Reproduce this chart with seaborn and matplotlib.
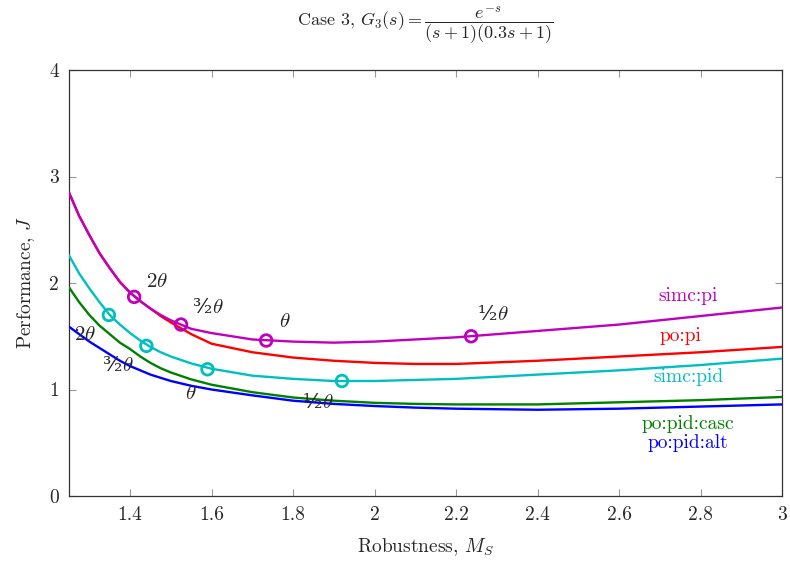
import numpy as np
import pandas as pd
import matplotlib
matplotlib.use("Agg")
import matplotlib.pyplot as plt
import seaborn as sns

# Robustness M_S sample points
ms = [1.25, 1.275, 1.3, 1.325, 1.35, 1.375, 1.4, 1.425, 1.45, 1.475, 1.5, 1.55, 1.6,
      1.7, 1.8, 1.9, 2.0, 2.1, 2.2, 2.4, 2.6, 2.8, 3.0]

simc_pi = [2.85, 2.63, 2.45, 2.28, 2.14, 2.01, 1.91, 1.83, 1.76, 1.70, 1.65, 1.57, 1.53,
           1.47, 1.45, 1.44, 1.45, 1.47, 1.49, 1.55, 1.61, 1.69, 1.77]
po_pi = [2.85, 2.63, 2.45, 2.28, 2.14, 2.01, 1.91, 1.83, 1.76, 1.69, 1.63, 1.52, 1.43,
         1.35, 1.30, 1.27, 1.25, 1.24, 1.24, 1.27, 1.31, 1.35, 1.40]
simc_pid = [2.26, 2.09, 1.95, 1.82, 1.70, 1.61, 1.53, 1.46, 1.40, 1.35, 1.31, 1.245, 1.195,
            1.13, 1.10, 1.08, 1.08, 1.09, 1.10, 1.14, 1.18, 1.23, 1.29]
po_pid_casc = [1.96, 1.82, 1.70, 1.60, 1.52, 1.44, 1.38, 1.31, 1.25, 1.20, 1.16, 1.095, 1.045,
               0.975, 0.925, 0.895, 0.875, 0.865, 0.86, 0.86, 0.88, 0.90, 0.93]
po_pid_alt = [1.59, 1.52, 1.45, 1.39, 1.33, 1.27, 1.22, 1.18, 1.14, 1.11, 1.08, 1.035, 1.00,
              0.945, 0.895, 0.865, 0.845, 0.83, 0.82, 0.81, 0.82, 0.84, 0.86]

# detuning markers (2θ, 3/2θ, θ, 1/2θ)
simc_pi_mk_x = [1.41, 1.525, 1.734, 2.237]
simc_pi_mk_y = [1.87, 1.61, 1.46, 1.50]
simc_pid_mk_x = [1.348, 1.44, 1.59, 1.92]
simc_pid_mk_y = [1.70, 1.41, 1.19, 1.08]

mk_labels = [r'$2\theta$', '\u00b3\u2044\u2082$\\theta$', r'$\theta$', '\u00b9\u2044\u2082$\\theta$']
top_label_x = [1.466, 1.59, 1.78, 2.29]
top_label_y = [2.01, 1.77, 1.64, 1.70]
low_label_x = [1.29, 1.37, 1.55, 1.86]
low_label_y = [1.52, 1.23, 0.96, 0.88]

series_names = ["simc:pi", "po:pi", "simc:pid", "po:pid:casc", "po:pid:alt"]
series_colors = ["#bf00bf", "#ff0000", "#00bfbf", "#008000", "#0000ff"]
name_x = [2.77, 2.75, 2.77, 2.77, 2.77]
name_y = [1.88, 1.50, 1.12, 0.68, 0.50]

sns.set_style("ticks")
plt.rcParams['font.family'] = ['cmr10']
plt.rcParams['mathtext.fontset'] = 'cm'
plt.rcParams['axes.formatter.use_mathtext'] = True

fig = plt.figure(figsize=(7.9, 5.67), dpi=100)
ax = fig.add_axes([0.0873, 0.1252, 0.9026, 0.7513])

# drawing order: po:pi under simc:pi
draw_order = [1, 0, 2, 3, 4]
all_series = [simc_pi, po_pi, simc_pid, po_pid_casc, po_pid_alt]
for i in draw_order:
    sns.lineplot(x=ms, y=all_series[i], color=series_colors[i], linewidth=1.7, ax=ax, zorder=3)

for mx, my, col in [(simc_pi_mk_x, simc_pi_mk_y, series_colors[0]),
                    (simc_pid_mk_x, simc_pid_mk_y, series_colors[2])]:
    sns.scatterplot(x=mx, y=my, marker='o', s=70, facecolor='none',
                    edgecolor=col, linewidth=2, ax=ax, zorder=4)

# fraction glyphs are not in cmr10, so these labels use DejaVu Serif
for lab, tx, ty in zip(mk_labels, top_label_x, top_label_y):
    ax.text(tx, ty, lab, fontsize=15, ha='center', va='center', family=['DejaVu Serif'])
for lab, tx, ty in zip(mk_labels, low_label_x, low_label_y):
    ax.text(tx, ty, lab, fontsize=15, ha='center', va='center', family=['DejaVu Serif'])

for nm, col, tx, ty in zip(series_names, series_colors, name_x, name_y):
    ax.text(tx, ty, nm, color=col, fontsize=14, ha='center', va='center')

ax.set_xlim(1.25, 3)
ax.set_ylim(0, 4)
ax.set_xticks([1.4, 1.6, 1.8, 2.0, 2.2, 2.4, 2.6, 2.8, 3.0])
ax.set_xticklabels(["1.4", "1.6", "1.8", "2", "2.2", "2.4", "2.6", "2.8", "3"])
ax.set_yticks([0, 1, 2, 3, 4])
ax.set_yticklabels(["0", "1", "2", "3", "4"])
ax.tick_params(direction='in', length=5, width=0.8, color='#999999',
               top=True, right=True, labelsize=14, pad=7)
for sp in ax.spines.values():
    sp.set_visible(True)
    sp.set_color('#333333')
    sp.set_linewidth(0.9)

ax.set_xlabel(r'Robustness, $M_S$', fontsize=14, labelpad=9)
ax.set_ylabel(r'Performance, $J$', fontsize=14, labelpad=9)
fig.text(425 / 790, 1 - 25 / 567, r'Case 3, $G_3(s) = \dfrac{e^{-s}}{(s+1)(0.3s+1)}$',
         fontsize=13, ha='center', va='center')

fig.savefig("out.png", dpi=100)
